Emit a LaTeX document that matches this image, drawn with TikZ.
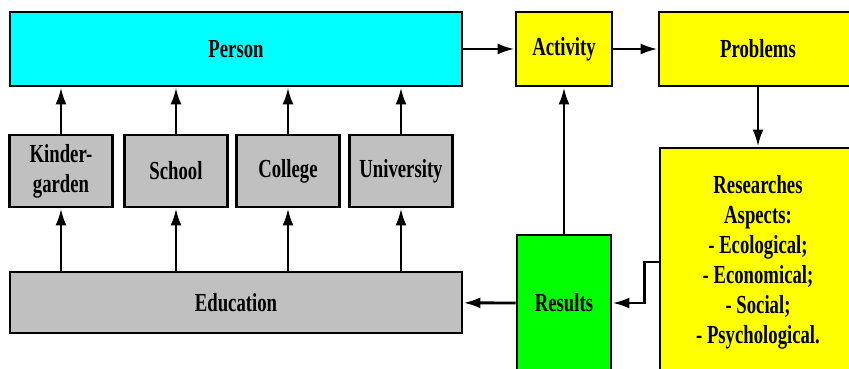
\documentclass[tikz,border=0pt]{standalone}
\usepackage{fontspec}
\setmainfont{Liberation Serif}[FakeStretch=0.72]
\usepackage{tikz}
\usetikzlibrary{positioning,arrows.meta}
\definecolor{boxcyan}{RGB}{0,255,255}
\definecolor{boxyellow}{RGB}{255,255,0}
\definecolor{boxgray}{RGB}{192,192,192}
\definecolor{boxgreen}{RGB}{0,255,0}
\tikzset{
  block/.style={draw,line width=2.8pt,align=center,inner sep=2pt,
    font=\fontsize{26}{30}\selectfont\bfseries},
  link/.style={line width=2.8pt,-{Latex[length=17pt,width=11pt]}}
}

\begin{document}
\begin{tikzpicture}[x=1pt,y=-1pt]
\useasboundingbox (0,0) rectangle (849,368);
\clip (0,0) rectangle (849,368);
% top row
\node[block,fill=boxcyan,minimum width=452pt,minimum height=74pt] (person) at (236,49) {Person};
\node[block,fill=boxyellow,minimum width=96pt,minimum height=74pt] (activity) at (564,49) {Activity};
\node[block,fill=boxyellow,minimum width=198pt,minimum height=74pt] (problems) at (758,49) {Problems};
% levels of education
\foreach \name/\X/\txt in {kinder/61/Kinder-\\garden,school/176/School,college/288/College,university/401/University}
{\node[block,fill=boxgray,minimum width=103pt,minimum height=72pt] (\name) at (\X,171) {\txt};}
\node[block,fill=boxgray,minimum width=452pt,minimum height=61pt] (education) at (236,302.5) {Education};
% right side
\node[block,fill=boxgreen,minimum width=94pt,minimum height=136pt] (results) at (564,303) {Results};
\node[block,fill=boxyellow,minimum width=196pt,minimum height=228pt] (research) at (758,262)
  {Researches\\Aspects:\\- Ecological;\\- Economical;\\- Social;\\- Psychological.};
% connectors
\draw[link] (person) -- (activity);
\draw[link] (activity) -- (problems);
\draw[link] (problems) -- (research);
\draw[link] (results) -- (activity);
\draw[link] (results) -- (education);
\draw[link] (research.west) -- ++(-14,0) |- (results.east);
\foreach \name in {kinder,school,college,university}
{\draw[link] (education.north -| \name) -- (\name.south);
\draw[link] (\name.north) -- (person.south -| \name);}
\end{tikzpicture}
\end{document}
